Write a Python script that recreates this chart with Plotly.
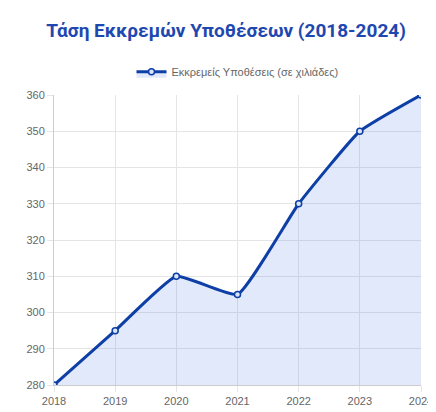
import plotly.graph_objects as go

years = [2018, 2019, 2020, 2021, 2022, 2023, 2024]
cases = [280, 295, 310, 305, 330, 350, 360]
y_ticks = [280, 290, 300, 310, 320, 330, 340, 350, 360]

fig = go.Figure()
fig.add_trace(go.Scatter(
    x=years, y=cases, mode="lines+markers",
    name="Εκκρεμείς Υποθέσεις (σε χιλιάδες)",
    line=dict(color="#0d3fa6", width=3, shape="spline", smoothing=0.4),
    marker=dict(size=6, color="#dbe4f7", line=dict(color="#0d3fa6", width=1.5)),
    fill="tozeroy", fillcolor="rgba(59,110,220,0.15)",
))
fig.update_layout(
    width=436, height=412,
    margin=dict(l=46, r=23, t=87, b=35),
    paper_bgcolor="white", plot_bgcolor="white",
    font=dict(family="Liberation Sans, Arial, sans-serif", size=11, color="#666"),
    title=dict(text="<b>Τάση Εκκρεμών Υποθέσεων (2018-2024)</b>", x=0.5, xanchor="center",
               y=0.945, yanchor="middle", font=dict(family="Roboto, Arial, sans-serif", size=19, color="#1e48b0")),
    legend=dict(orientation="h", x=0.5, xanchor="center", y=1.03, yanchor="bottom",
                font=dict(size=11, color="#666")),
    showlegend=True,
)
fig.update_xaxes(range=[2018, 2024], tickvals=years, showgrid=True, gridcolor="#e5e5e5",
                 showline=True, linecolor="#ccc", ticks="outside", ticklen=6, tickcolor="#e5e5e5",
                 automargin=False)
fig.update_yaxes(range=[280, 360], tickvals=y_ticks, showgrid=True, gridcolor="#e5e5e5",
                 showline=True, linecolor="#ccc", ticks="outside", ticklen=6, tickcolor="#e5e5e5",
                 automargin=False)
fig.write_html("out.html")
